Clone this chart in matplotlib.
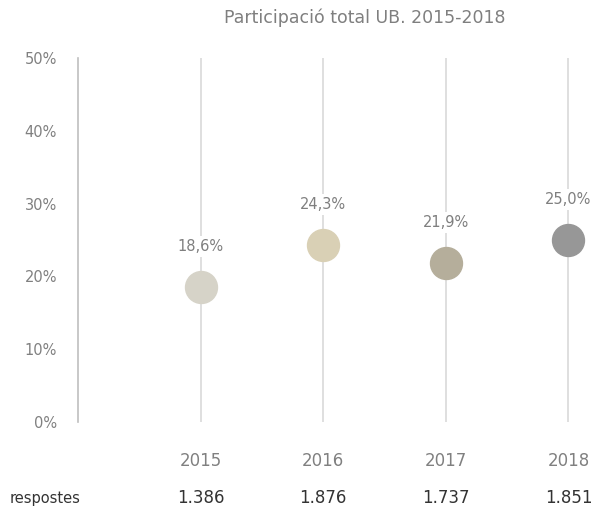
import matplotlib.pyplot as plt
import matplotlib.transforms as mtransforms

# data
years = ['2015', '2016', '2017', '2018']
participacio = [18.6, 24.3, 21.9, 25.0]
respostes = ['1.386', '1.876', '1.737', '1.851']
colors = ['#d6d3c8', '#d9d0b5', '#b5ae9b', '#979797']

plt.rcParams['font.family'] = ['DejaVu Sans']

fig = plt.figure(figsize=(5.93, 5.12), dpi=100)
ax = fig.add_axes([78 / 593, 1 - 422 / 512, 1 - 78 / 593, (422 - 58) / 512])

xs = list(range(1, len(years) + 1))

# vertical guide lines for each year
for x in xs:
    ax.axvline(x, color='#d9d9d9', lw=1.2, zorder=1)

for x, v, c in zip(xs, participacio, colors):
    ax.plot(x, v, 'o', ms=23, color=c, mec=c, zorder=3)
    ax.annotate(f'{v:.1f}%'.replace('.', ','), (x, v), xytext=(0, 29),
                textcoords='offset points', ha='center', va='center',
                fontsize=10.5, color='#7f7f7f', zorder=4,
                bbox=dict(boxstyle='square,pad=0.2', fc='white', ec='none'))

ax.set_xlim(0, 4.2)
ax.set_ylim(0, 50)
ax.set_yticks(range(0, 51, 10))
ax.set_yticklabels([f'{t}%' for t in range(0, 51, 10)])
ax.set_xticks(xs)
ax.set_xticklabels(years)
ax.tick_params(axis='y', length=0, pad=15, labelsize=10.5, labelcolor='#808080')
ax.tick_params(axis='x', length=0, pad=28, labelsize=12, labelcolor='#808080')
for lbl in ax.get_xticklabels():
    lbl.set_verticalalignment('center')

for s in ['top', 'right', 'bottom']:
    ax.spines[s].set_visible(False)
ax.spines['left'].set_color('#bfbfbf')
ax.spines['left'].set_linewidth(1.2)

# respostes row
trans = mtransforms.blended_transform_factory(ax.transData, fig.transFigure)
for x, r in zip(xs, respostes):
    ax.text(x, 1 - 498 / 512, r, transform=trans, ha='center', va='center',
            fontsize=12, color='#333333')
fig.text(10 / 593, 1 - 498 / 512, 'respostes', ha='left', va='center',
         fontsize=10.5, color='#333333')

fig.text(365 / 593, 1 - 18 / 512, 'Participació total UB. 2015-2018',
         ha='center', va='center', fontsize=12.5, color='#7f7f7f')

fig.savefig('out.png', dpi=100)
